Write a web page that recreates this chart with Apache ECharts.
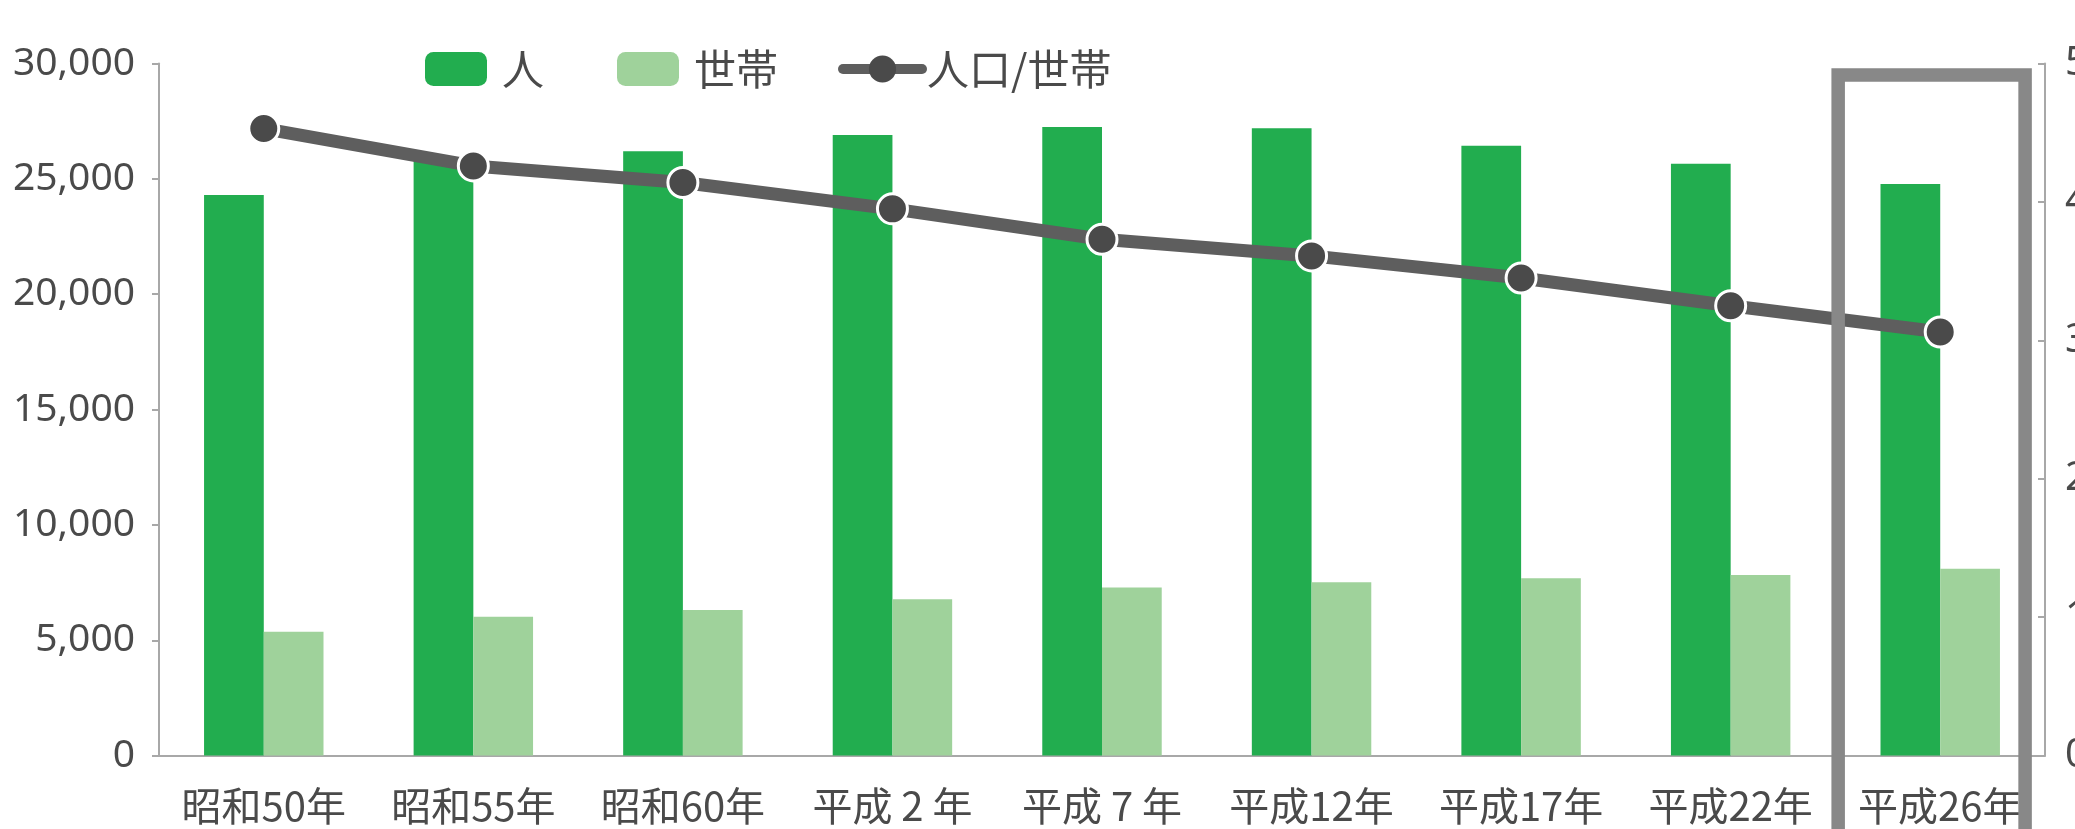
<!DOCTYPE html>
<html><head><meta charset="utf-8">
<script src="https://cdn.jsdelivr.net/npm/echarts@6/dist/echarts.min.js"></script>
<style>html,body{margin:0;padding:0;background:#fff;overflow:hidden}#c{width:2075px;height:829px}</style>
</head><body><div id="c"></div>
<script>
const categories = ['昭和50年','昭和55年','昭和60年','平成 2 年','平成 7 年','平成12年','平成17年','平成22年','平成26年'];
const population = [24300, 25800, 26200, 26900, 27250, 27190, 26440, 25650, 24780];
const households = [5370, 6020, 6310, 6780, 7290, 7510, 7690, 7830, 8100];
const perHousehold = [4.53, 4.26, 4.14, 3.95, 3.73, 3.61, 3.45, 3.25, 3.06];
const leftTicks = [0, 5000, 10000, 15000, 20000, 25000, 30000];
const rightTicks = [0, 1, 2, 3, 4, 5];
const highlightCategory = '平成26年';

const FONT = '"Noto Sans CJK JP","Noto Sans",sans-serif';
const NUMFONT = '"Noto Sans",sans-serif';
const TXT = '#4a4a4a';
const chart = echarts.init(document.getElementById('c'), null, {renderer:'canvas'});
const legendText = {fontSize: 42, color: TXT, fontFamily: FONT, padding: [0, 0, 0, 10]};
chart.setOption({
  backgroundColor: '#fff',
  animation: false,
  textStyle: {fontFamily: FONT},
  grid: {left: 159, right: 30, top: 63.5, bottom: 73.4, containLabel: false, outerBoundsMode: 'none'},
  legend: [
    {data: ['人'], left: 420, top: 43, itemWidth: 62, itemHeight: 34, itemGap: 0, textStyle: legendText},
    {data: ['世帯'], left: 612, top: 43, itemWidth: 62, itemHeight: 34, itemGap: 0, textStyle: legendText},
    {data: ['人口/世帯'], left: 833, top: 43, itemWidth: 79, itemHeight: 34, itemGap: 0,
     textStyle: Object.assign({}, legendText, {padding: [0, 0, 0, 0]}),
     lineStyle: {width: 10, color: '#5e5e5e', cap: 'round'}, itemStyle: {color: '#4a4a4a', borderWidth: 0}}
  ],
  xAxis: {
    type: 'category', data: categories,
    axisLine: {lineStyle: {color: '#a8a8a8', width: 2}},
    axisTick: {length: 8, lineStyle: {color: '#a8a8a8', width: 2}},
    axisLabel: {fontSize: 40, color: TXT, margin: 30, fontFamily: FONT, interval: 0}
  },
  yAxis: [
    {type: 'value', min: leftTicks[0], max: leftTicks[leftTicks.length-1], interval: leftTicks[1]-leftTicks[0],
     splitLine: {show: false},
     axisLine: {show: true, lineStyle: {color: '#a8a8a8', width: 2}},
     axisTick: {show: true, length: 7, lineStyle: {color: '#a8a8a8', width: 2}},
     axisLabel: {fontSize: 39, color: TXT, margin: 24, fontFamily: NUMFONT,
       formatter: v => v.toLocaleString('en-US')}},
    {type: 'value', position: 'right', min: rightTicks[0], max: rightTicks[rightTicks.length-1], interval: 1,
     splitLine: {show: false},
     axisLine: {show: true, lineStyle: {color: '#a8a8a8', width: 2}},
     axisTick: {show: true, inside: true, length: 7, lineStyle: {color: '#a8a8a8', width: 2}},
     axisLabel: {fontSize: 40, color: TXT, margin: 20, fontFamily: NUMFONT}}
  ],
  series: [
    {name: '人', type: 'bar', data: population, barGap: '0%', barCategoryGap: '43%',
     itemStyle: {color: '#22ad4f'}},
    {name: '世帯', type: 'bar', data: households,
     itemStyle: {color: '#9fd29b'}},
    {name: '人口/世帯', type: 'line', yAxisIndex: 1, data: perHousehold,
     symbol: 'circle', symbolSize: 30, z: 5,
     lineStyle: {color: '#5e5e5e', width: 13},
     itemStyle: {color: '#4a4a4a', borderColor: '#ffffff', borderWidth: 3}}
  ]
});

// Highlight box around the last category, positioned from the category axis
const centerX = chart.convertToPixel({xAxisIndex: 0}, highlightCategory);
const nextX = chart.convertToPixel({xAxisIndex: 0}, categories[categories.length-2]);
const band = centerX - nextX;
const topY = chart.convertToPixel({yAxisIndex: 1}, rightTicks[rightTicks.length-1]);
chart.setOption({
  graphic: [{
    type: 'rect', z: 10,
    shape: {x: centerX - 0.487*band, y: topY + 11.5, width: 0.892*band, height: 900},
    style: {fill: 'none', stroke: '#888888', lineWidth: 13.5}
  }]
});
</script></body></html>
